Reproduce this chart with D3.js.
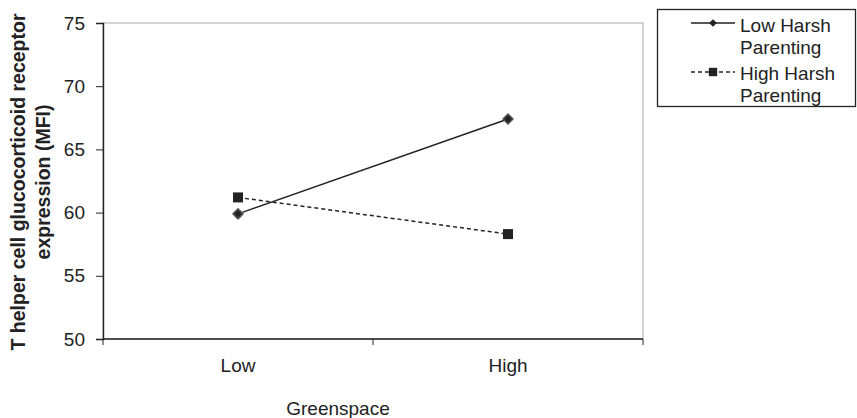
<!DOCTYPE html>
<html>
<head>
<meta charset="utf-8">
<script src="https://cdn.jsdelivr.net/npm/d3@7"></script>
<style>
  body { margin: 0; background: #fff; }
  svg { font-family: "Liberation Sans", Arial, sans-serif; }
</style>
</head>
<body>
<div id="chart"></div>
<script>
const categories = ["Low", "High"];
const lowHarsh = [59.9, 67.4];
const highHarsh = [61.2, 58.3];
const seriesNames = [["Low Harsh", "Parenting"], ["High Harsh", "Parenting"]];
const yTicks = [50, 55, 60, 65, 70, 75];

const width = 857, height = 418;
const margin = { top: 23, right: 214, bottom: 79, left: 103 };
const plotW = width - margin.left - margin.right;
const plotH = height - margin.top - margin.bottom;

const svg = d3.select("#chart")
    .append("svg")
    .attr("width", width)
    .attr("height", height);

const g = svg.append("g")
    .attr("transform", `translate(${margin.left},${margin.top})`);

const x = d3.scaleBand().domain(categories).range([0, plotW]);
const y = d3.scaleLinear().domain([50, 75]).range([plotH, 0]);

// plot frame
g.append("rect")
    .attr("width", plotW)
    .attr("height", plotH)
    .attr("fill", "none")
    .attr("stroke", "#aaa")
    .attr("stroke-width", 1);

// y axis
const yAxis = g.append("g")
    .call(d3.axisLeft(y).tickValues(yTicks).tickSize(7).tickPadding(11));
yAxis.select(".domain").attr("stroke", "#222").attr("stroke-width", 1.4);
yAxis.selectAll(".tick line").attr("stroke", "#222");
yAxis.selectAll("text").attr("font-size", 19).attr("fill", "#222");

// x axis, ticks on band edges
const xAxis = g.append("g")
    .attr("transform", `translate(0,${plotH})`);
xAxis.append("line")
    .attr("x1", 0).attr("x2", plotW)
    .attr("stroke", "#222").attr("stroke-width", 1.4);
const bounds = [0].concat(categories.map(c => x(c) + x.bandwidth()));
xAxis.selectAll(".xt").data(bounds).enter().append("line")
    .attr("x1", d => d).attr("x2", d => d)
    .attr("y1", 0).attr("y2", 6)
    .attr("stroke", "#222");
xAxis.selectAll(".xl").data(categories).enter().append("text")
    .attr("x", d => x(d) + x.bandwidth() / 2)
    .attr("y", 33)
    .attr("text-anchor", "middle")
    .attr("font-size", 19)
    .attr("fill", "#222")
    .text(d => d);

// axis titles
svg.append("text")
    .attr("x", 338)
    .attr("y", 415)
    .attr("text-anchor", "middle")
    .attr("font-size", 19)
    .attr("fill", "#222")
    .text("Greenspace");

const yTitle = svg.append("text")
    .attr("transform", `translate(25,182) rotate(-90)`)
    .attr("text-anchor", "middle")
    .attr("font-size", 19.5)
    .attr("font-weight", "bold")
    .attr("fill", "#222");
yTitle.append("tspan").attr("x", 0).attr("dy", 0).text("T helper cell glucocorticoid receptor");
yTitle.append("tspan").attr("x", 0).attr("dy", 25).text("expression (MFI)");

// lines
const line = d3.line()
    .x((d, i) => x(categories[i]) + x.bandwidth() / 2)
    .y(d => y(d));

g.append("path").datum(lowHarsh)
    .attr("d", line).attr("fill", "none")
    .attr("stroke", "#222").attr("stroke-width", 1.5);
g.append("path").datum(highHarsh)
    .attr("d", line).attr("fill", "none")
    .attr("stroke", "#222").attr("stroke-width", 1.5)
    .attr("stroke-dasharray", "4,3");

// diamonds are squares turned 45 degrees
const diamond = d3.symbol().type(d3.symbolSquare).size(50);
const square = d3.symbol().type(d3.symbolSquare).size(100);
const legDiamond = d3.symbol().type(d3.symbolSquare).size(30);
const legSquare = d3.symbol().type(d3.symbolSquare).size(70);

g.selectAll(".dm").data(lowHarsh).enter().append("path")
    .attr("d", diamond)
    .attr("transform", (d, i) => `translate(${x(categories[i]) + x.bandwidth() / 2},${y(d)}) rotate(45)`)
    .attr("fill", "#222")
    .attr("stroke", "#555").attr("stroke-width", 1.5).attr("stroke-linejoin", "round");
g.selectAll(".sq").data(highHarsh).enter().append("path")
    .attr("d", square)
    .attr("transform", (d, i) => `translate(${x(categories[i]) + x.bandwidth() / 2},${y(d)})`)
    .attr("fill", "#222");

// legend
const lg = svg.append("g");
lg.append("rect")
    .attr("x", 657.5).attr("y", 9.5)
    .attr("width", 198).attr("height", 97)
    .attr("fill", "none").attr("stroke", "#222").attr("stroke-width", 1.3);

const legendRows = [
    { y: 23, dash: null, sym: legDiamond, rot: 45, ty: 32 },
    { y: 72, dash: "4,3", sym: legSquare, rot: 0, ty: 80 }
];
legendRows.forEach((r, i) => {
    lg.append("line")
        .attr("x1", 691).attr("x2", 735)
        .attr("y1", r.y).attr("y2", r.y)
        .attr("stroke", "#222").attr("stroke-width", 1.3)
        .attr("stroke-dasharray", r.dash);
    lg.append("path")
        .attr("d", r.sym)
        .attr("transform", `translate(713,${r.y}) rotate(${r.rot})`)
        .attr("fill", "#222");
    const t = lg.append("text")
        .attr("font-size", 19)
        .attr("fill", "#222");
    t.append("tspan").attr("x", 740).attr("y", r.ty).text(seriesNames[i][0]);
    t.append("tspan").attr("x", 740).attr("y", r.ty + 22).text(seriesNames[i][1]);
});
</script>
</body>
</html>
